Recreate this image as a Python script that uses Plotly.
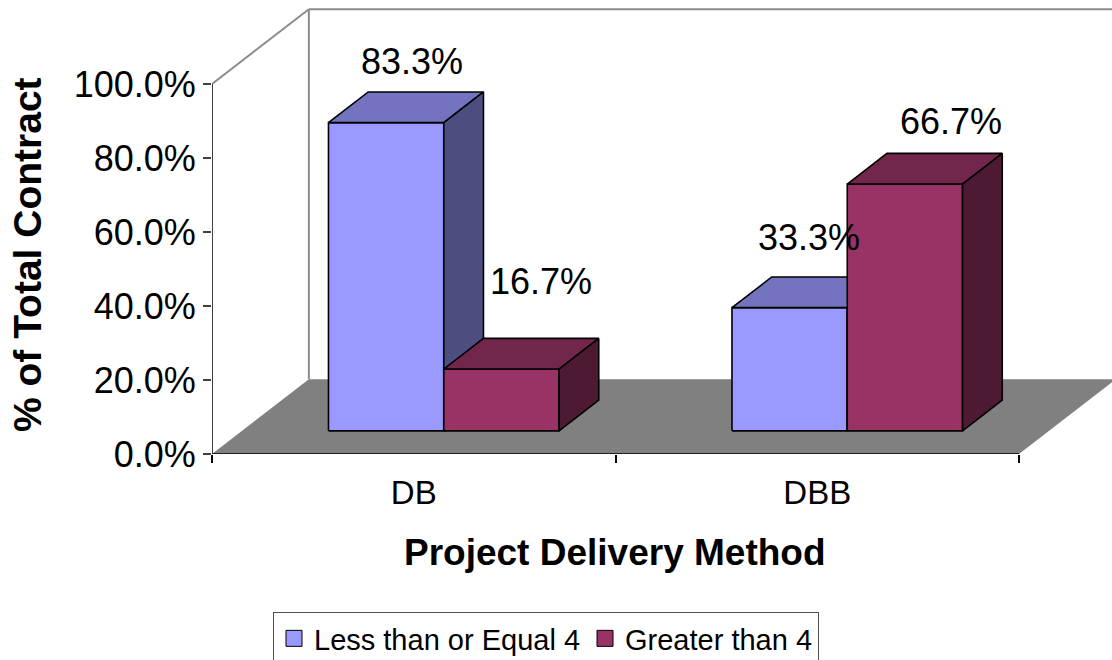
import plotly.graph_objects as go

# ---------------- data ----------------
categories = ["DB", "DBB"]
series_names = ["Less than or Equal 4", "Greater than 4"]
less_equal_4 = [83.3, 33.3]
greater_than_4 = [16.7, 66.7]
y_tick_values = [0, 20, 40, 60, 80, 100]
y_tick_labels = ["0.0%", "20.0%", "40.0%", "60.0%", "80.0%", "100.0%"]

series_values = [less_equal_4, greater_than_4]

# ---------------- style ----------------
FONT = "Arial, 'Liberation Sans', sans-serif"
FRONT = ["#9999FF", "#993366"]
TOP = ["#7373BF", "#73264C"]
SIDE = ["#4D4D80", "#4D1933"]
FLOOR = "#808080"
WALL_LINE = "#8C8C8C"

PX_PER_X = 403.5   # pixels per category unit
PX_PER_Y = 3.70    # pixels per percent
WALL_DX = 0.24     # depth offset of the back wall (x units)
WALL_DY = 20.2     # depth offset of the back wall (percent units)
BAR_Z0 = 0.31      # front face depth fraction
BAR_DZ = 0.41      # bar depth fraction
BAR_W = 1 / 3.5    # bar width (gap width 150%)

LABEL_XSHIFT = [[6, 20], [0, 26]]
LABEL_YSHIFT = [[46, 72], [55, 47]]

ML, MB = 212, 206
W, H = 1112, 660
x_range = [0, (W - ML) / PX_PER_X]
y_range = [0, (H - MB) / PX_PER_Y]

fig = go.Figure()

# ---------------- floor and walls ----------------
shapes = []
shapes.append(dict(type="path", layer="below",
                   path=f"M 0,0 L 2,0 L {2 + WALL_DX},{WALL_DY} L {WALL_DX},{WALL_DY} Z",
                   fillcolor=FLOOR, line=dict(width=0)))
shapes.append(dict(type="line", layer="below", x0=WALL_DX, y0=WALL_DY, x1=WALL_DX, y1=100 + WALL_DY,
                   line=dict(color=WALL_LINE, width=2)))
shapes.append(dict(type="line", layer="below", x0=WALL_DX, y0=100 + WALL_DY, x1=2 + WALL_DX, y1=100 + WALL_DY,
                   line=dict(color=WALL_LINE, width=2)))
shapes.append(dict(type="line", layer="below", x0=0, y0=100, x1=WALL_DX, y1=100 + WALL_DY,
                   line=dict(color=WALL_LINE, width=2)))
# axis lines
shapes.append(dict(type="line", layer="above", x0=0, y0=0, x1=0, y1=100,
                   line=dict(color="#404040", width=2)))
shapes.append(dict(type="line", layer="above", x0=0, y0=0, x1=2, y1=0,
                   line=dict(color="#000000", width=1.5)))

# ---------------- 3D bars ----------------
fx = BAR_Z0 * WALL_DX
fy = BAR_Z0 * WALL_DY
ddx = BAR_DZ * WALL_DX
ddy = BAR_DZ * WALL_DY

annotations = []
for i, cat in enumerate(categories):
    for s in range(len(series_values)):
        v = series_values[s][i]
        x0 = i + 0.5 - BAR_W + s * BAR_W + fx
        x1 = x0 + BAR_W
        y0 = fy
        y1 = fy + v
        faces = [
            ([x0, x1, x1, x0, x0], [y0, y0, y1, y1, y0], FRONT[s]),
            ([x0, x1, x1 + ddx, x0 + ddx, x0], [y1, y1, y1 + ddy, y1 + ddy, y1], TOP[s]),
            ([x1, x1 + ddx, x1 + ddx, x1, x1], [y0, y0 + ddy, y1 + ddy, y1, y0], SIDE[s]),
        ]
        for xs, ys, col in faces:
            fig.add_trace(go.Scatter(
                x=xs, y=ys, mode="lines", fill="toself", fillcolor=col,
                line=dict(color="#000000", width=1.6), hoverinfo="skip",
                showlegend=False))
        annotations.append(dict(
            x=(x0 + x1) / 2 + ddx / 2, y=y1 + ddy / 2, xref="x", yref="y",
            text=f"{v:.1f}%", showarrow=False,
            xshift=LABEL_XSHIFT[i][s], yshift=LABEL_YSHIFT[i][s],
            font=dict(family=FONT, size=36, color="#000000")))

# legend entries
for s, name in enumerate(series_names):
    fig.add_trace(go.Scatter(
        x=[None], y=[None], mode="markers", name=name,
        marker=dict(symbol="square", size=16, color=FRONT[s],
                    line=dict(color="#000000", width=1))))

# axis titles
annotations.append(dict(
    text="<b>% of Total Contract</b>", textangle=-90, showarrow=False,
    xref="paper", yref="paper", x=(27 - ML) / (W - ML), y=(H - MB - 255) / (H - MB),
    xanchor="center", yanchor="middle",
    font=dict(family=FONT, size=39, color="#000000")))
annotations.append(dict(
    text="<b>Project Delivery Method</b>", showarrow=False,
    xref="paper", yref="paper", x=(615 - ML) / (W - ML), y=(H - MB - 552) / (H - MB),
    xanchor="center", yanchor="middle",
    font=dict(family=FONT, size=37, color="#000000")))

fig.update_layout(
    width=W, height=H,
    margin=dict(l=ML, r=0, t=0, b=MB, pad=0),
    paper_bgcolor="#FFFFFF", plot_bgcolor="#FFFFFF",
    font=dict(family=FONT, color="#000000"),
    shapes=shapes, annotations=annotations,
    showlegend=True,
    legend=dict(orientation="h", xref="container", yref="container",
                x=273 / W, y=1 - 612 / H, xanchor="left", yanchor="top",
                bordercolor="#505050", borderwidth=1, bgcolor="#FFFFFF",
                font=dict(family=FONT, size=29, color="#000000"),
                itemwidth=30, tracegroupgap=0),
    xaxis=dict(range=x_range, showgrid=False, zeroline=False, showline=False,
               tickmode="array", tickvals=[0.5, 1.5], ticktext=categories,
               ticks="", ticklabelstandoff=16,
               tickfont=dict(family=FONT, size=33, color="#000000"),
               minor=dict(tickmode="array", tickvals=[0, 1, 2], ticks="outside",
                          ticklen=8, tickcolor="#000000", tickwidth=1.5, showgrid=False),
               fixedrange=True),
    yaxis=dict(range=y_range, showgrid=False, zeroline=False, showline=False,
               tickmode="array", tickvals=y_tick_values, ticktext=y_tick_labels,
               ticks="outside", ticklen=8, tickcolor="#404040", tickwidth=1.5,
               tickfont=dict(family=FONT, size=36, color="#000000"),
               fixedrange=True),
)

fig.write_html("out.html", config={"displayModeBar": False},
               post_script="document.body.style.margin='0';")
